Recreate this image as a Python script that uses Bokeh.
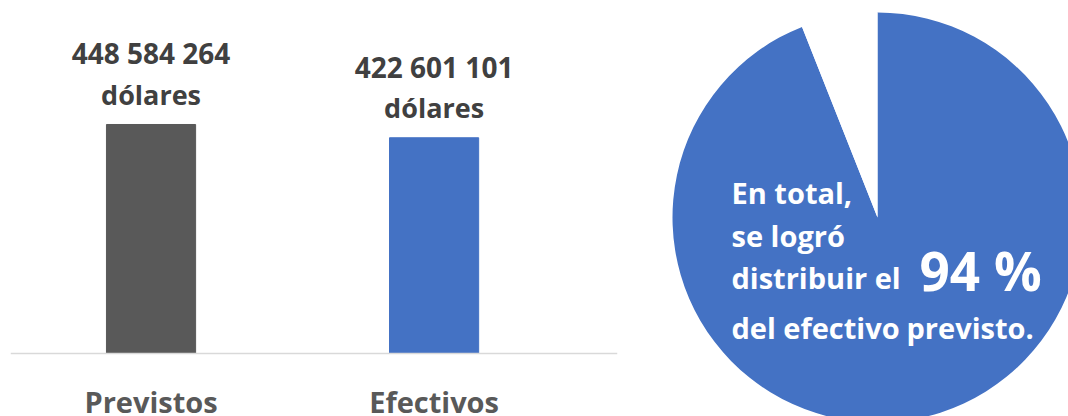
import math
from bokeh.plotting import figure
from bokeh.layouts import row
from bokeh.models import Range1d, Span, ColumnDataSource
from bokeh.core.properties import value
from bokeh.embed import file_html
from bokeh.resources import INLINE

# ---------------- data ----------------
categories = ["Previstos", "Efectivos"]
amounts = [448584264, 422601101]
unit_label = "dólares"

pie_labels = ["Distribuido", "No distribuido"]
pie_shares = [94, 6]

pie_text_lines = ["En total,", "se logró", "distribuir el", "del efectivo", "previsto."]
pie_big_text = "94 %"

# ---------------- styles ----------------
FONT = value("Open Sans")
bar_colors = ["#595959", "#4472C4"]
pie_colors = ["#4472C4", "#FFFFFF"]

# ---------------- bar chart ----------------
dpp = 1.9588e6  # dollars per pixel
xs = list(range(len(categories)))
src = ColumnDataSource(dict(
    x=xs,
    top=amounts,
    color=bar_colors,
    cat=categories,
    num=[f"{a:,}".replace(",", " ") for a in amounts],
    unit=[unit_label] * len(amounts),
))

p = figure(width=650, height=416, output_backend="svg", toolbar_location=None,
           x_range=Range1d(-0.4965, 1.648), y_range=Range1d(-63 * dpp, 353 * dpp),
           min_border_left=10, min_border_right=33, min_border_top=0, min_border_bottom=0)
p.axis.visible = False
p.grid.visible = False
p.outline_line_color = None
p.background_fill_color = "white"

p.vbar(x="x", top="top", bottom=0, width=0.315, color="color", source=src)
p.add_layout(Span(location=0, dimension="width", line_color="#D9D9D9", line_width=1.7))

p.text(x="x", y="top", text="num", source=src, y_offset=-71,
       text_align="center", text_baseline="alphabetic",
       text_font=FONT, text_font_style="bold", text_font_size="28px",
       text_color="#404040")
p.text(x="x", y="top", text="unit", source=src, y_offset=-30,
       text_align="center", text_baseline="alphabetic",
       text_font=FONT, text_font_style="bold", text_font_size="27px",
       text_color="#404040")
p.text(x="x", y=0, text="cat", source=src, y_offset=48,
       text_align="center", text_baseline="alphabetic",
       text_font=FONT, text_font_style="bold", text_font_size="29px",
       text_color="#595959")

# ---------------- pie ----------------
total = sum(pie_shares)
starts, ends = [], []
cum = 0.0
for s in pie_shares:
    starts.append(math.pi / 2 - 2 * math.pi * cum / total)
    cum += s
    ends.append(math.pi / 2 - 2 * math.pi * cum / total)
psrc = ColumnDataSource(dict(label=pie_labels, share=pie_shares,
                             start=starts, end=ends, color=pie_colors))

q = figure(width=418, height=416, output_backend="svg", toolbar_location=None,
           x_range=Range1d(0, 418), y_range=Range1d(0, 416), min_border=0)
q.axis.visible = False
q.grid.visible = False
q.outline_line_color = None

q.wedge(x=227, y=199, radius=205, start_angle="start", end_angle="end",
        direction="clock", fill_color="color", line_color=None, source=psrc)

line_x = [81, 81, 81, 81, 256]
line_y = [224, 181, 139, 89, 89]
q.text(x=line_x, y=line_y, text=pie_text_lines,
       text_align="left", text_baseline="alphabetic",
       text_font=FONT, text_font_style="bold", text_font_size="29px",
       text_color="white")
q.text(x=[269], y=[146], text=[pie_big_text],
       text_align="left", text_baseline="alphabetic",
       text_font=FONT, text_font_style="bold", text_font_size="53px",
       text_color="white")

layout = row(p, q, spacing=0)
open("out.html", "w").write(file_html(layout, INLINE))
